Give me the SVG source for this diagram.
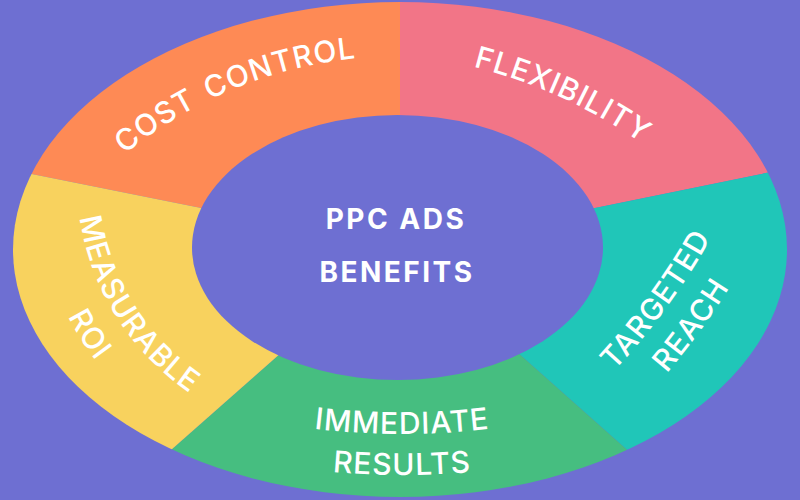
<svg xmlns="http://www.w3.org/2000/svg" width="800" height="500" viewBox="0 0 800 500">
  <style>
    .ring { font-family: Inter, "Liberation Sans", Arial, sans-serif; font-size: 30px; font-weight: 500; fill: #ffffff; letter-spacing: 1px; }
    .center { font-family: Inter, "Liberation Sans", Arial, sans-serif; font-size: 28px; font-weight: 700; fill: #ffffff; letter-spacing: 2.5px; }
  </style>
  <defs>
    <clipPath id="outer">
      <ellipse cx="400" cy="249.5" rx="387" ry="247.5"/>
    </clipPath>
    <path id="p-cost" d="M 54.9 226.2 A 435 435 0 0 1 456.8 59.7" fill="none"/>
    <path id="p-flex" d="M 295.8 53.1 A 520 520 0 0 1 769 268.8" fill="none"/>
    <path id="p-targ" d="M 491.5 475.7 A 700 700 0 0 0 773.7 88.8" fill="none"/>
    <path id="p-reach" d="M 514.4 509.7 A 741 741 0 0 0 813.1 100.2" fill="none"/>
    <path id="p-imm" d="M 202 406.8 A 750 750 0 0 0 602 406.8" fill="none"/>
    <path id="p-res" d="M 202 449.3 A 791 791 0 0 0 602 449.3" fill="none"/>
    <path id="p-meas" d="M 78.8 142.7 A 261 261 0 0 0 258.1 426.4" fill="none"/>
    <path id="p-roi" d="M 37.1 137.1 A 303 303 0 0 0 245.3 466.5" fill="none"/>
  </defs>
  <rect width="800" height="500" fill="#6e6fd2"/>
  <g clip-path="url(#outer)">
    <g id="cost-control">
      <polygon points="400,248 -100,147.7 -100,-100 400,-100" fill="#fe8a55"/>
    </g>
    <g id="flexibility">
      <polygon points="400,248 400,-100 900,-100 900,145.5" fill="#f27587"/>
    </g>
    <g id="targeted-reach">
      <polygon points="400,248 900,145.5 900,600 796,600" fill="#20c6b8"/>
    </g>
    <g id="immediate-results">
      <polygon points="400,248 796,600 1,600" fill="#46be80"/>
    </g>
    <g id="measurable-roi">
      <polygon points="400,248 1,600 -100,600 -100,147.7" fill="#f8d25e"/>
    </g>
  </g>
  <g id="center">
    <ellipse cx="397.5" cy="247.5" rx="205.5" ry="132.5" fill="#6e6fd2"/>
    <text class="center" x="396" y="229" text-anchor="middle">PPC ADS</text>
    <text class="center" x="397" y="282" text-anchor="middle">BENEFITS</text>
  </g>
  <g id="labels">
    <text class="ring" word-spacing="4"><textPath href="#p-cost" startOffset="50%" text-anchor="middle">COST CONTROL</textPath></text>
    <text class="ring"><textPath href="#p-flex" startOffset="50%" text-anchor="middle">FLEXIBILITY</textPath></text>
    <text class="ring"><textPath href="#p-targ" startOffset="50%" text-anchor="middle">TARGETED</textPath></text>
    <text class="ring"><textPath href="#p-reach" startOffset="50%" text-anchor="middle">REACH</textPath></text>
    <text class="ring"><textPath href="#p-imm" startOffset="50%" text-anchor="middle">IMMEDIATE</textPath></text>
    <text class="ring"><textPath href="#p-res" startOffset="50%" text-anchor="middle">RESULTS</textPath></text>
    <text class="ring"><textPath href="#p-meas" startOffset="50%" text-anchor="middle">MEASURABLE</textPath></text>
    <text class="ring"><textPath href="#p-roi" startOffset="50%" text-anchor="middle">ROI</textPath></text>
  </g>
</svg>
